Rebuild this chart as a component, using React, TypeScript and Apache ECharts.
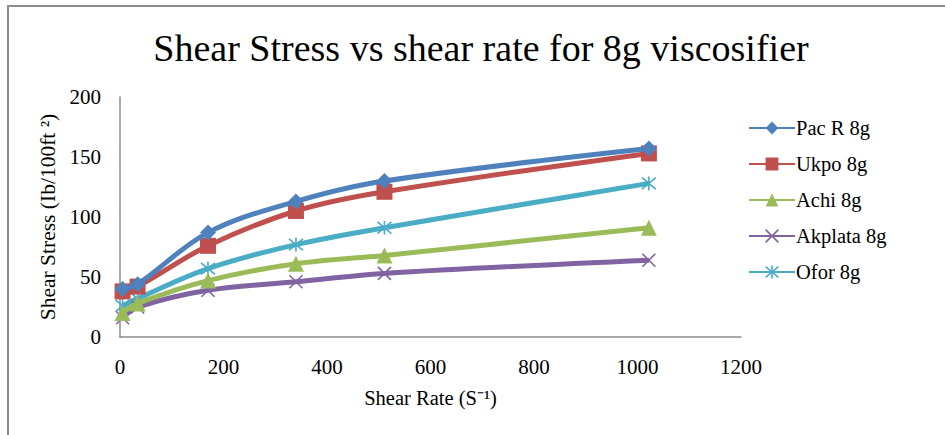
import React, { useEffect, useRef } from "react";
import * as echarts from "echarts";

// Shear rate (1/s) readings of the viscometer
const shearRate = [5, 34, 170, 340, 511, 1022];

// Shear stress (lb/100ft²) for each 8g viscosifier sample
const pacR = [40, 44, 87, 113, 130, 157];
const ukpo = [38, 42, 76, 105, 121, 153];
const achi = [20, 28, 47, 61, 68, 91];
const akplata = [16, 25, 39, 46, 53, 64];
const ofor = [26, 32, 57, 77, 91, 128];

const seriesNames = ["Pac R 8g", "Ukpo 8g", "Achi 8g", "Akplata 8g", "Ofor 8g"];
const seriesData = [pacR, ukpo, achi, akplata, ofor];
const colors = ["#4F81BD", "#C0504D", "#9BBB59", "#8064A2", "#4BACC6"];

const crossPath = "path://M0 0L10 10M10 0L0 10";
const starPath = "path://M0 0L10 10M10 0L0 10M5 -1L5 11";
const symbols = ["diamond", "rect", "triangle", crossPath, starPath];
const symbolSizes = [16, 16, 16, 13, 14];

const FONT = "'Liberation Serif', 'Times New Roman', serif";

export default function App() {
  const ref = useRef<HTMLDivElement>(null);

  useEffect(() => {
    if (!ref.current) return;
    const chart = echarts.init(ref.current, null, { renderer: "svg" });

    const markerStyle = (i: number) =>
      i >= 3
        ? { color: "rgba(0,0,0,0)", borderColor: colors[i], borderWidth: 1.6 }
        : { color: colors[i], borderWidth: 0 };

    const series = seriesNames.map((name, i) => ({
      name,
      type: "line",
      data: shearRate.map((x, j) => [x, seriesData[i][j]]),
      smooth: 0.35,
      symbol: symbols[i],
      symbolSize: symbolSizes[i],
      showAllSymbol: true,
      lineStyle: { color: colors[i], width: 5 },
      itemStyle: markerStyle(i),
      z: 10 - i,
    }));

    chart.setOption({
      animation: false,
      color: colors,
      title: {
        text: "Shear Stress vs shear rate for 8g viscosifier",
        left: 476,
        textAlign: "center",
        top: 24,
        textStyle: { fontFamily: FONT, fontSize: 38, fontWeight: "normal", color: "#000" },
      },
      legend: {
        orient: "vertical",
        left: 743,
        top: 112.5,
        itemWidth: 46,
        itemHeight: 16,
        itemGap: 15,
        textStyle: { fontFamily: FONT, fontSize: 20.5, color: "#000", padding: [0, 0, 0, -4] },
        data: seriesNames.map((name, i) => ({ name, itemStyle: markerStyle(i) })),
      },
      grid: { left: 120, right: 204, top: 97, bottom: 98, containLabel: false },
      xAxis: {
        type: "value",
        min: 0,
        max: 1200,
        interval: 200,
        name: "Shear Rate (S⁻¹)",
        nameLocation: "middle",
        nameGap: 50,
        nameTextStyle: { fontFamily: FONT, fontSize: 20.5, color: "#000" },
        axisLine: { show: true, lineStyle: { color: "#8c8c8c", width: 1.5 } },
        axisTick: { show: false },
        splitLine: { show: false },
        axisLabel: {
          fontFamily: FONT,
          fontSize: 21,
          color: "#000",
          margin: 19.5,
          formatter: (v: number) => String(v),
        },
      },
      yAxis: {
        type: "value",
        min: 0,
        max: 200,
        interval: 50,
        name: "Shear Stress (Ib/100ft ²)",
        nameLocation: "middle",
        nameGap: 61,
        nameRotate: 90,
        nameTextStyle: { fontFamily: FONT, fontSize: 21.5, color: "#000" },
        axisLine: { show: true, lineStyle: { color: "#8c8c8c", width: 1.5 } },
        axisTick: { show: false },
        splitLine: { show: false },
        axisLabel: {
          fontFamily: FONT,
          fontSize: 21,
          color: "#000",
          margin: 19,
          formatter: (v: number) => String(v),
        },
      },
      graphic: [
        {
          type: "rect",
          shape: { x: 8, y: 6, width: 1200, height: 1200 },
          style: { fill: "none", stroke: "#8c8c8c", lineWidth: 2 },
          silent: true,
        },
      ],
      series,
    });

    return () => chart.dispose();
  }, []);

  return (
    <div
      ref={ref}
      style={{ position: "fixed", left: 0, top: 0, width: 945, height: 435, background: "#fff" }}
    />
  );
}
